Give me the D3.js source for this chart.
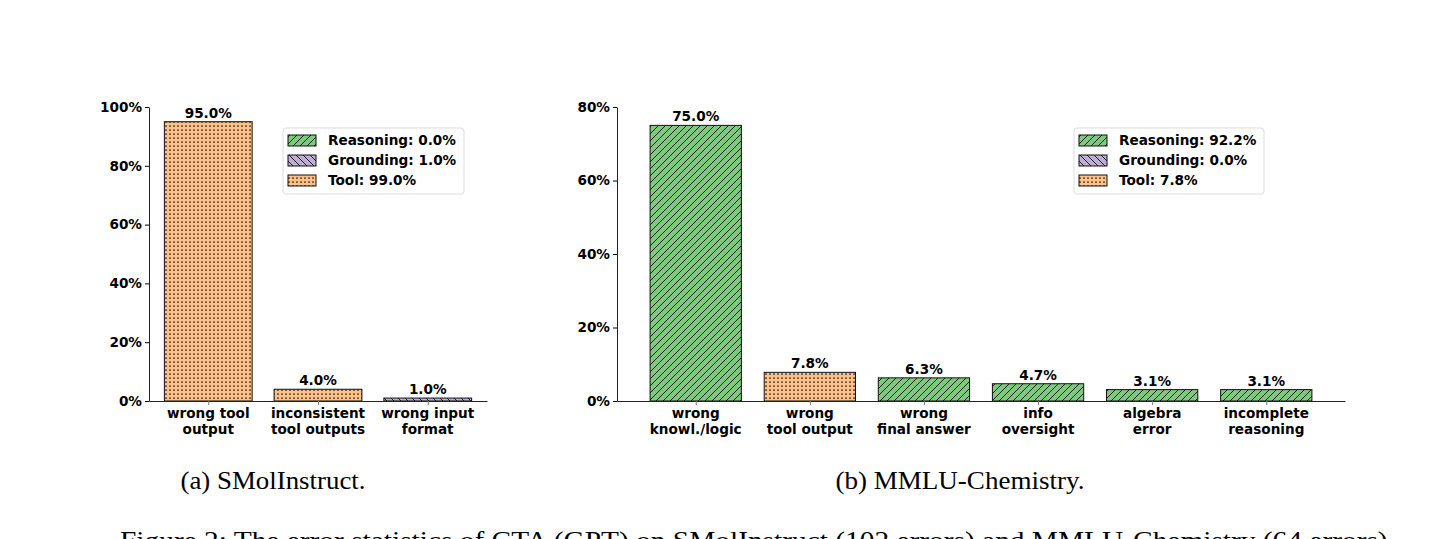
<!DOCTYPE html>
<html>
<head>
<meta charset="utf-8">
<script src="https://cdn.jsdelivr.net/npm/d3@7"></script>
<style>
  body { margin: 0; background: #fff; }
  svg text { font-family: "DejaVu Sans", sans-serif; font-weight: bold; }
  .cap { font-family: "Liberation Serif", "Times New Roman", serif; font-weight: normal; }
</style>
</head>
<body>
<svg id="fig" width="1446" height="539"></svg>
<script>
// ---- data ----
var typeNames = ["Reasoning", "Grounding", "Tool"];
var typeColors = ["#7fc97f", "#beaed4", "#fdc086"];

var smolLabels = [["wrong tool", "output"], ["inconsistent", "tool outputs"], ["wrong input", "format"]];
var smolValues = [95.0, 4.0, 1.0];
var smolTypes = ["Tool", "Tool", "Grounding"];
var smolShares = [0.0, 1.0, 99.0];

var mmluLabels = [["wrong", "knowl./logic"], ["wrong", "tool output"], ["wrong", "final answer"],
                  ["info", "oversight"], ["algebra", "error"], ["incomplete", "reasoning"]];
var mmluValues = [75.0, 7.8, 6.3, 4.7, 3.1, 3.1];
var mmluTypes = ["Reasoning", "Tool", "Reasoning", "Reasoning", "Reasoning", "Reasoning"];
var mmluShares = [92.2, 0.0, 7.8];

var svg = d3.select("#fig");

// hatch patterns, one per error type
var defs = svg.append("defs");
function hatch(id, color, kind) {
  var size = kind == "dots" ? 4 : 7;
  var p = defs.append("pattern")
    .attr("id", id)
    .attr("patternUnits", "userSpaceOnUse")
    .attr("width", size).attr("height", size);
  p.append("rect").attr("width", size).attr("height", size).attr("fill", color);
  if (kind == "dots") {
    p.append("circle").attr("cx", 2).attr("cy", 2).attr("r", 0.85).attr("fill", "#111");
  } else {
    var s = size;
    var d = kind == "fwd"
      ? "M0," + s + " L" + s + ",0 M-1,1 L1,-1 M" + (s - 1) + "," + (s + 1) + " L" + (s + 1) + "," + (s - 1)
      : "M0,0 L" + s + "," + s + " M-1," + (s - 1) + " L1," + (s + 1) + " M" + (s - 1) + ",-1 L" + (s + 1) + ",1";
    p.append("path").attr("d", d).attr("stroke", "#111").attr("stroke-width", 0.9);
  }
}
hatch("h-Reasoning", typeColors[0], "fwd");
hatch("h-Grounding", typeColors[1], "back");
hatch("h-Tool", typeColors[2], "dots");

function panel(opt) {
  var g = svg.append("g");
  var data = opt.labels.map(function(l, i) {
    return { key: i, label: l, value: opt.values[i], type: opt.types[i] };
  });

  var x = d3.scalePoint()
    .domain(data.map(function(d) { return d.key; }))
    .range([opt.left, opt.right])
    .padding(opt.pad);
  var y = d3.scaleLinear().domain([0, opt.ymax]).range([401, 107]);
  var bw = x.step() * 0.8;

  // bars
  g.selectAll("rect.bar")
    .data(data).enter()
    .append("rect")
    .attr("class", "bar")
    .attr("x", function(d) { return x(d.key) - bw / 2; })
    .attr("y", function(d) { return y(d.value); })
    .attr("width", bw)
    .attr("height", function(d) { return y(0) - y(d.value); })
    .attr("fill", function(d) { return "url(#h-" + d.type + ")"; })
    .attr("stroke", "#111")
    .attr("stroke-width", 1);

  // value labels
  g.selectAll("text.val")
    .data(data).enter()
    .append("text")
    .attr("class", "val")
    .attr("x", function(d) { return x(d.key); })
    .attr("y", function(d) { return y(d.value) - 4; })
    .attr("text-anchor", "middle")
    .style("font-size", "13.6px")
    .text(function(d) { return d.value.toFixed(1) + "%"; });

  // y axis
  var ya = g.append("g")
    .attr("transform", "translate(" + opt.left + ",0)")
    .call(d3.axisLeft(y).tickValues(d3.range(0, opt.ymax + 1, 20))
      .tickFormat(function(d) { return d + "%"; })
      .tickSize(4).tickSizeOuter(0).tickPadding(3));
  ya.selectAll("text").style("font-size", "13.6px").attr("fill", "#000");
  ya.select(".domain").attr("stroke", "#222");

  // x axis
  var xa = g.append("g")
    .attr("transform", "translate(0," + y(0) + ")")
    .call(d3.axisBottom(x).tickSize(4).tickSizeOuter(0).tickFormat(""));
  xa.select(".domain").attr("stroke", "#222");
  xa.selectAll(".tick line").attr("stroke", "#777");
  data.forEach(function(d) {
    var t = g.append("text")
      .attr("x", x(d.key)).attr("y", 418)
      .attr("text-anchor", "middle")
      .style("font-size", "13.6px");
    d.label.forEach(function(line, j) {
      t.append("tspan").attr("x", x(d.key)).attr("dy", j == 0 ? 0 : 16).text(line);
    });
  });

  // legend
  var lg = g.append("g").attr("transform", "translate(" + opt.legX + ",128)");
  lg.append("rect")
    .attr("width", opt.legW).attr("height", 66)
    .attr("rx", 3)
    .attr("fill", "#fff").attr("fill-opacity", 0.8)
    .attr("stroke", "#ddd");
  typeNames.forEach(function(n, i) {
    lg.append("rect")
      .attr("x", 5).attr("y", 7 + i * 20)
      .attr("width", 28).attr("height", 11)
      .attr("fill", "url(#h-" + n + ")")
      .attr("stroke", "#111");
    lg.append("text")
      .attr("x", 45).attr("y", 17 + i * 20)
      .style("font-size", "13.6px")
      .text(n + ": " + opt.shares[i].toFixed(1) + "%");
  });

  // sub caption
  svg.append("text")
    .attr("class", "cap")
    .attr("x", opt.capX).attr("y", 489)
    .attr("text-anchor", "middle")
    .attr("textLength", opt.capW).attr("lengthAdjust", "spacingAndGlyphs")
    .style("font-size", "26px")
    .text(opt.caption);
}

panel({ labels: smolLabels, values: smolValues, types: smolTypes, shares: smolShares,
        left: 149, right: 487, pad: 0.54, ymax: 100, legX: 283, legW: 181,
        capX: 273, capW: 185, caption: "(a) SMolInstruct." });
panel({ labels: mmluLabels, values: mmluValues, types: mmluTypes, shares: mmluShares,
        left: 617, right: 1345, pad: 0.69, ymax: 80, legX: 1074, legW: 190,
        capX: 960, capW: 249, caption: "(b) MMLU-Chemistry." });

svg.append("text")
  .attr("class", "cap")
  .attr("x", 120).attr("y", 549)
  .attr("textLength", 1275).attr("lengthAdjust", "spacingAndGlyphs")
  .style("font-size", "25px")
  .text("Figure 2: The error statistics of CTA (GPT) on SMolInstruct (102 errors) and MMLU-Chemistry (64 errors).");
</script>
</body>
</html>
